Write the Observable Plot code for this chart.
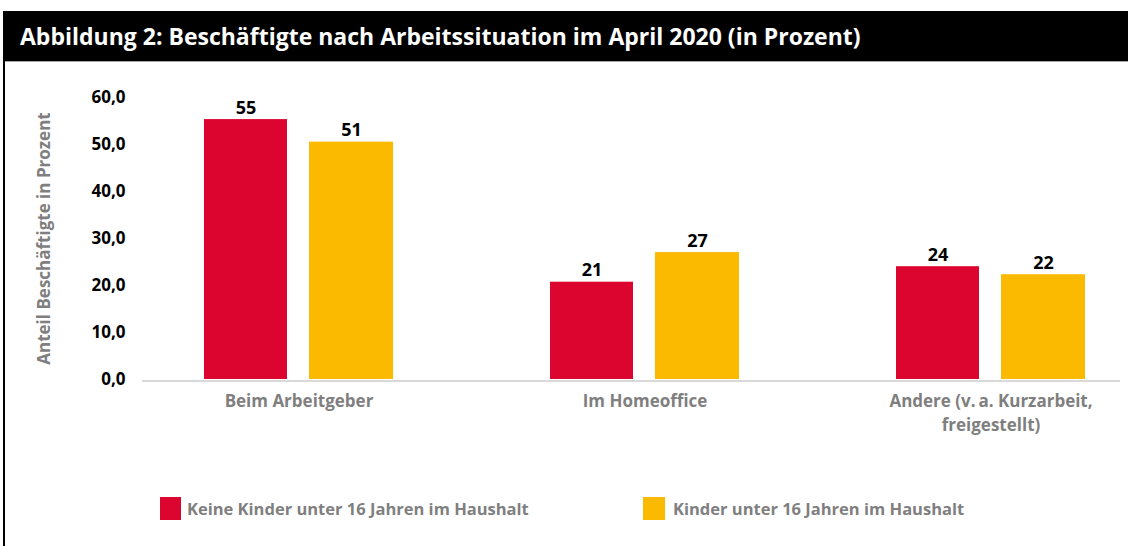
<!DOCTYPE html>
<html><head><meta charset="utf-8">
<script src="https://cdn.jsdelivr.net/npm/d3@7"></script>
<script src="https://cdn.jsdelivr.net/npm/@observablehq/plot@0.6"></script>
<style>
body{margin:0;background:#fff;font-family:"Open Sans",Lato,sans-serif;}
#wrap{margin:11px 0 0 3px;border-left:2px solid #000;height:535px;overflow:hidden;position:relative;}
#title{background:#000;color:#fff;height:50px;border-bottom:1px solid #a6a6a6;font-weight:700;font-size:23px;line-height:50px;padding-left:15px;white-space:nowrap;}
#chart svg{display:block;}
#legend{position:absolute;top:486px;left:0;width:100%;height:23px;font-weight:700;font-size:16.5px;color:#7f7f7f;}
.sw{position:absolute;top:0;height:23px;}
.lt{position:absolute;top:0;line-height:23px;white-space:nowrap;}
</style></head>
<body>
<div id="wrap">
  <div id="title"></div>
  <div id="chart"></div>
  <div id="legend"></div>
</div>
<script>
const titleText = "Abbildung 2: Beschäftigte nach Arbeitssituation im April 2020 (in Prozent)";
const categories = ["Beim Arbeitgeber", "Im Homeoffice", "Andere (v.\u2009a. Kurzarbeit,\nfreigestellt)"];
const series = ["Keine Kinder unter 16 Jahren im Haushalt", "Kinder unter 16 Jahren im Haushalt"];
const keineKinder = [55.3, 20.7, 24.0];
const mitKindern = [50.5, 27.0, 22.3];
const yTicks = [0, 10, 20, 30, 40, 50, 60];
const colors = ["#dc052f", "#fbb900"];
const yLabel = "Anteil Beschäftigte in Prozent";

document.getElementById("title").textContent = titleText;

const redData = categories.map((c, i) => ({cat: c, value: keineKinder[i], series: series[0]}));
const yelData = categories.map((c, i) => ({cat: c, value: mitKindern[i], series: series[1]}));

const plot = Plot.plot({
  width: 1123,
  height: 400,
  marginTop: 35,
  marginBottom: 83,
  marginLeft: 137,
  marginRight: 8,
  style: {fontFamily: "'Open Sans', Lato, sans-serif", background: "#fff"},
  x: {domain: categories, range: [119.25, 1158.75], paddingInner: 0.4545, paddingOuter: 0.22725, align: 0.5},
  y: {domain: [0, 60]},
  marks: [
    Plot.ruleY([0], {stroke: "#d9d9d9", strokeWidth: 2, dy: 1.5}),
    Plot.barY(redData, {x: "cat", y: "value", fill: colors[0], insetRight: 106}),
    Plot.barY(yelData, {x: "cat", y: "value", fill: colors[1], insetLeft: 105}),
    Plot.text(redData, {x: "cat", y: "value", text: d => String(Math.round(d.value)), dx: -53, dy: -6, lineAnchor: "bottom", fontWeight: 700, fontSize: 18, fill: "#000"}),
    Plot.text(yelData, {x: "cat", y: "value", text: d => String(Math.round(d.value)), dx: 52.5, dy: -6, lineAnchor: "bottom", fontWeight: 700, fontSize: 18, fill: "#000"}),
    Plot.axisY({ticks: yTicks, tickSize: 0, tickPadding: 17, tickFormat: d => d.toFixed(1).replace(".", ","), fontSize: 17, fontWeight: 700, color: "#000", label: null}),
    Plot.axisX({tickSize: 0, tickPadding: 11, fontSize: 17, fontWeight: 700, color: "#7f7f7f", label: null, lineHeight: 1.4}),
    Plot.text([yLabel], {frameAnchor: "left", text: d => d, dx: -98, rotate: -90, textAnchor: "middle", lineAnchor: "middle", fontSize: 17, fontWeight: 700, fill: "#7f7f7f"})
  ]
});
document.getElementById("chart").appendChild(plot);

const legend = document.getElementById("legend");
const legendPos = [{sw: 155, w: 21, t: 182}, {sw: 638, w: 22, t: 668}];
series.forEach((s, i) => {
  const sw = document.createElement("div");
  sw.className = "sw";
  sw.style.left = legendPos[i].sw + "px";
  sw.style.width = legendPos[i].w + "px";
  sw.style.background = colors[i];
  legend.appendChild(sw);
  const t = document.createElement("div");
  t.className = "lt";
  t.style.left = legendPos[i].t + "px";
  t.textContent = s;
  legend.appendChild(t);
});
</script>
</body></html>
